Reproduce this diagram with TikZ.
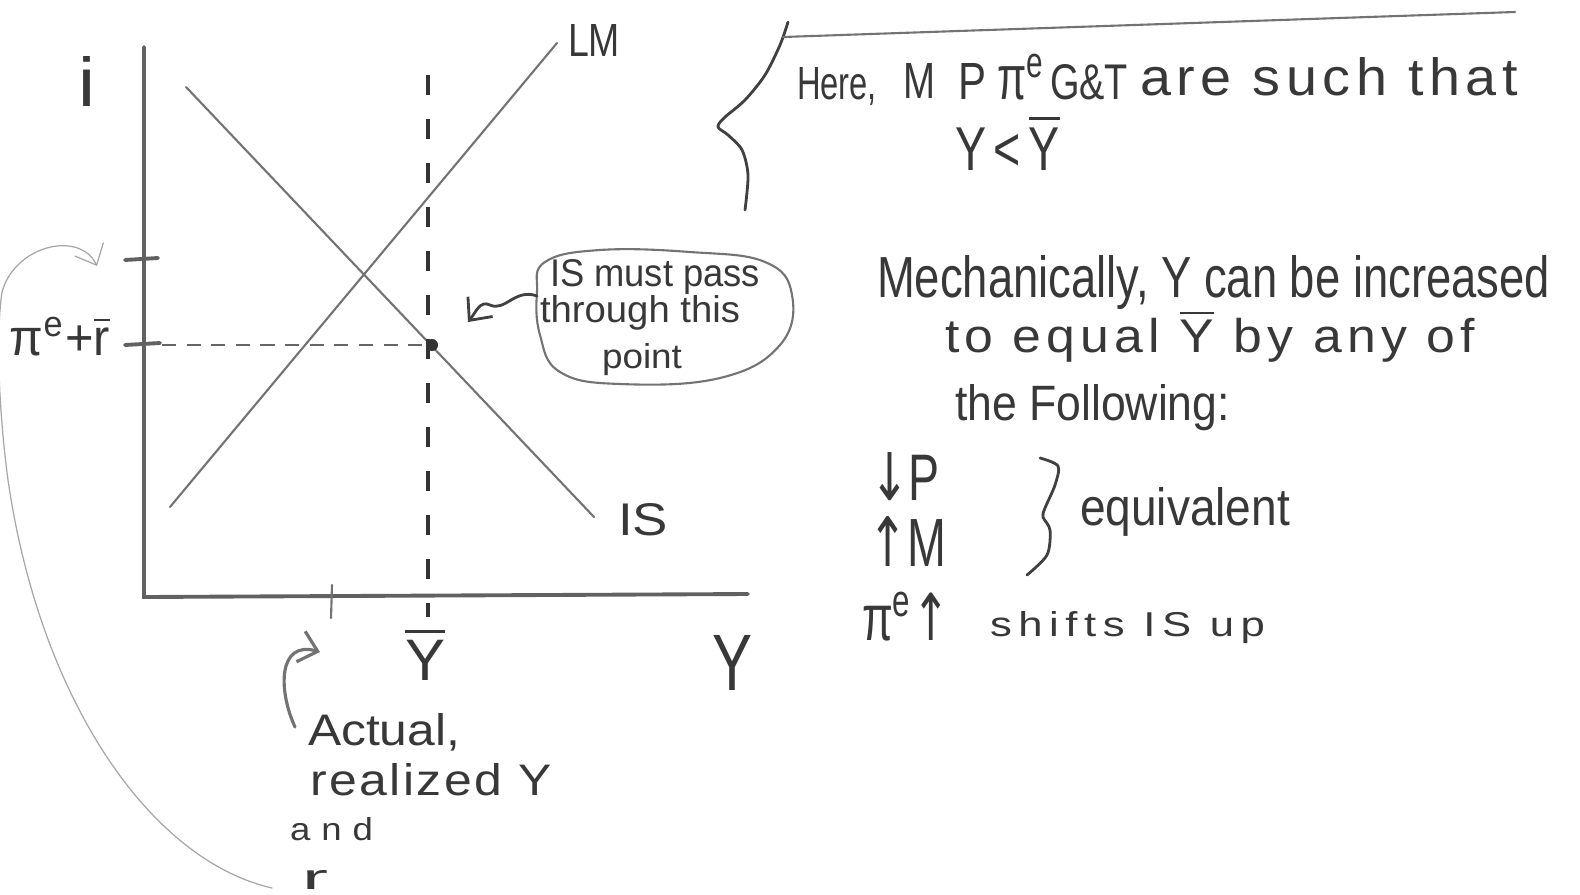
\documentclass[tikz,border=0pt]{standalone}
\usepackage{fontspec}
\setmainfont{Liberation Sans}
\newfontfamily\arrowfont{DejaVu Sans}
\usetikzlibrary{arrows.meta}
\newlength\hwu \setlength\hwu{0.01cm}
\newcommand\hw[3]{\resizebox{#1\hwu}{#2\hwu}{#3}}
\newcommand\hwl[4]{\resizebox{#1\hwu}{#2\hwu}{\addfontfeature{LetterSpace=#3}#4}}
\newcommand\ob[1]{$\overline{\mbox{#1}}$}
\newcommand\arr[1]{\raisebox{0pt}[\height][0pt]{\arrowfont #1}}
\begin{document}
\begin{tikzpicture}[x=0.01cm,y=-0.01cm,
  txt/.style={anchor=base west,inner sep=0pt,outer sep=0pt,text=black!78},
  axisline/.style={draw=black!62,line width=1.1pt,line cap=round},
  curveline/.style={draw=black!55,line width=0.6pt,line cap=round},
  faint/.style={draw=black!35,line width=0.35pt,line cap=round},
  inkline/.style={draw=black!75,line width=0.8pt,line cap=round,line join=round},
  dashv/.style={draw=black!80,line width=0.9pt,dash pattern=on 5.7pt off 6.8pt},
  dashh/.style={draw=black!60,line width=0.6pt,dash pattern=on 4pt off 3pt},
  hook/.style={-{Straight Barb[length=5pt,width=9pt]}},
]
\useasboundingbox (0,0) rectangle (1580,894);

% axes
\coordinate (yTop) at (144,47);
\coordinate (O) at (144,597);
\coordinate (xEnd) at (748,594);
\draw[axisline] (yTop) -- (O) -- (xEnd);
% ticks
\coordinate (tA1) at (125,260); \coordinate (tA2) at (158,258);
\coordinate (tB1) at (125,345); \coordinate (tB2) at (160,343);
\coordinate (tC1) at (332,585); \coordinate (tC2) at (331,618);
\draw[axisline] (tA1) -- (tA2);
\draw[axisline] (tB1) -- (tB2);
\draw[curveline] (tC1) -- (tC2);

% IS and LM curves
\coordinate (IS1) at (186,87); \coordinate (IS2) at (594,517);
\coordinate (LM1) at (170,507); \coordinate (LM2) at (557,43);
\draw[curveline] (IS1) -- (IS2);
\draw[curveline] (LM1) -- (LM2);

% equilibrium point and dashed guides
\coordinate (E) at (432,345);
\coordinate (vTop) at (428,75); \coordinate (vBot) at (428,617);
\coordinate (hL) at (162,345);
\draw[dashv] (vTop) -- (vBot);
\draw[dashh] (hL) -- (E);
\fill[black!80] (E) circle (6);

% axis labels
\node[txt] (li) at (78,107) {\hw{17}{50}{i}};
\node[txt] (lLM) at (568,57) {\hw{52}{32}{LM}};
\node[txt] (lIS) at (618,535) {\hw{50}{32}{IS}};
\node[txt] (lY) at (712,690) {\hw{40}{55}{Y}};
\node[txt] (lYbar) at (405,680) {\hw{40}{52}{\ob{Y}}};
\node[txt] (lpir) at (10,355) {\hw{100}{38}{π\textsuperscript{e}+\ob{r}}};

% bubble
\draw[curveline] plot[smooth cycle, tension=0.7] coordinates
  {(545,262) (600,250) (690,252) (765,262) (792,295) (780,345) (720,378) (620,384) (560,372) (540,335) (537,292)};
\coordinate (bL) at (537,296);
\node[txt] (b1) at (550,286) {\hw{210}{27}{IS must pass}};
\node[txt] (b2) at (540,322) {\hw{200}{27}{through this}};
\node[txt] (b3) at (602,368) {\hw{80}{25}{point}};
\coordinate (sqEnd) at (468,322);
\draw[inkline,hook] (bL) .. controls (515,288) and (505,312) .. (490,305)
  .. controls (480,300) and (476,312) .. (sqEnd);

% big faint curve from bottom to upper tick
\coordinate (cStart) at (272,888);
\coordinate (cEnd) at (97,266);
\draw[faint,hook] (cStart) .. controls (150,860) and (40,700) .. (8,480)
  .. controls (0,420) and (-5,340) .. (2,292)
  .. controls (15,245) and (80,230) .. (cEnd);

% arrow from "Actual" to tick
\coordinate (aStart) at (295,727);
\coordinate (aEnd) at (320,652);
\draw[curveline,line width=0.9pt,hook] (aStart) .. controls (278,690) and (278,640) .. (aEnd);

% bottom-left texts
\node[txt] (act) at (308,745) {\hw{152}{32}{Actual,}};
\node[txt] (real) at (310,795) {\hwl{242}{32}{5}{realized Y}};
\node[txt] (and) at (290,840) {\hwl{83}{23}{30}{and}};
\node[txt] (rr) at (302,889) {\hw{26}{19}{r}};

% top-right brace and line
\coordinate (brTop) at (788,22);
\coordinate (brBot) at (745,210);
\draw[inkline] plot[smooth] coordinates {(brTop) (780,45) (765,75) (745,100) (724,118) (718,127) (728,135) (742,150) (748,175) (brBot)};
\coordinate (lnL) at (783,37); \coordinate (lnR) at (1515,12);
\draw[curveline] (lnL) -- (lnR);

\node[txt] (here) at (797,100) {\hw{80}{32}{Here,}};
\node[txt] (hM) at (903,98) {\hw{32}{35}{M}};
\node[txt] (hP) at (958,100) {\hw{28}{36}{P}};
\node[txt] (hpi) at (997,100) {\hw{48}{46}{π\textsuperscript{e}}};
\node[txt] (hGT) at (1050,100) {\hw{78}{35}{G\&T}};
\node[txt] (hare) at (1140,95) {\hwl{378}{38}{10}{are such that}};
\node[txt] (ylt) at (955,170) {\hw{105}{55}{Y\,<\,\ob{Y}}};

% right text block
\node[txt] (mech) at (877,297) {\hw{673}{42}{Mechanically, Y can be increased}};
\node[txt] (toeq) at (945,352) {\hwl{530}{42}{10}{to equal \ob{Y} by any of}};
\node[txt] (follow) at (955,420) {\hw{275}{36}{the Following:}};
\node[txt] (dP) at (870,500) {\hw{70}{48}{\arr{↓}P}};
\node[txt] (uM) at (868,566) {\hw{78}{50}{\arr{↑}M}};
\draw[inkline] plot[smooth] coordinates {(1040,458) (1058,466) (1055,485) (1045,508) (1043,517) (1050,530) (1047,555) (1027,575)};
\node[txt] (equiv) at (1080,525) {\hw{210}{38}{equivalent}};
\node[txt] (pie) at (862,640) {\hw{88}{48}{π\textsuperscript{e}\arr{↑}}};
\node[txt] (shifts) at (990,636) {\hwl{275}{25}{15}{shifts IS up}};
\end{tikzpicture}
\end{document}
